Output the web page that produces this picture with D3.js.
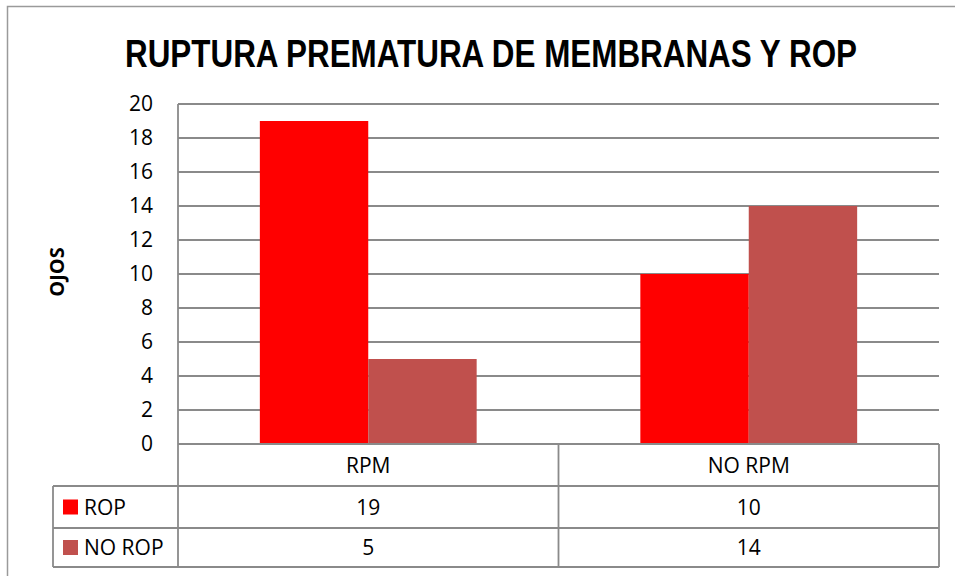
<!DOCTYPE html>
<html><head><meta charset="utf-8">
<script src="https://cdn.jsdelivr.net/npm/d3@7"></script>
<style>body{margin:0;background:#fff}svg{display:block}</style>
</head><body>
<script>
const title = "RUPTURA PREMATURA DE MEMBRANAS Y ROP";
const yLabel = "OJOS";
const categories = ["RPM", "NO RPM"];
const seriesNames = ["ROP", "NO ROP"];
const ropValues = [19, 10];
const noRopValues = [5, 14];
const yTicks = [0, 2, 4, 6, 8, 10, 12, 14, 16, 18, 20];
const colors = ["#FF0000", "#C0504D"];

(function () {
const W = 955, H = 576;
const svg = d3.select("body").append("svg").attr("width", W).attr("height", H);
const font = "'Open Sans', 'DejaVu Sans', sans-serif";
const fs = 21;
const gridColor = "#8a8a8a";

// outer border
svg.append("rect").attr("x", 7.5).attr("y", 6.5).attr("width", W + 10).attr("height", H + 10)
  .attr("fill", "none").attr("stroke", "#9a9a9a").attr("stroke-width", 1.5);

const pLeft = 178, pRight = 939, pTop = 104, pBottom = 444;
const rowH = [486, 528, 567];
const tableLeft = 53;

const x0 = d3.scaleBand().domain(categories).range([pLeft, pRight]).paddingInner(0).paddingOuter(0);
const x1 = d3.scaleBand().domain(seriesNames).range([0, x0.bandwidth()]).paddingInner(0).paddingOuter(0.755);
const y = d3.scaleLinear().domain([0, 20]).range([pBottom, pTop]);

const seriesData = [ropValues, noRopValues];

// gridlines
svg.append("g").selectAll("line").data(yTicks.filter(t => t > 0)).join("line")
  .attr("x1", pLeft).attr("x2", pRight).attr("y1", d => y(d)).attr("y2", d => y(d))
  .attr("stroke", gridColor).attr("stroke-width", 1.8);

// bars
categories.forEach((c, ci) => {
  seriesNames.forEach((s, si) => {
    const v = seriesData[si][ci];
    svg.append("rect")
      .attr("x", x0(c) + x1(s)).attr("width", x1.bandwidth())
      .attr("y", y(v)).attr("height", y(0) - y(v))
      .attr("fill", colors[si]);
  });
});

// y axis
const yAxis = d3.axisLeft(y).tickValues(yTicks).tickSize(0).tickPadding(25);
const ga = svg.append("g").attr("transform", `translate(${pLeft},0)`).call(yAxis);
ga.select(".domain").remove();
ga.attr("font-size", fs).attr("font-family", font);
ga.selectAll("text").attr("font-family", font).attr("font-size", fs).attr("fill", "#000");

// y label
svg.append("text").attr("transform", "translate(64,272) rotate(-90)")
  .attr("text-anchor", "middle").attr("font-family", font).attr("font-weight", "bold")
  .attr("font-size", 20).text(yLabel);

// table lines
const tl = svg.append("g").attr("stroke", gridColor).attr("stroke-width", 1.8);
tl.append("line").attr("x1", pLeft).attr("x2", pRight).attr("y1", pBottom).attr("y2", pBottom);
rowH.forEach(yy => tl.append("line").attr("x1", tableLeft).attr("x2", pRight).attr("y1", yy).attr("y2", yy));
tl.append("line").attr("x1", pLeft).attr("x2", pLeft).attr("y1", pTop).attr("y2", rowH[2]);
tl.append("line").attr("x1", tableLeft).attr("x2", tableLeft).attr("y1", rowH[0]).attr("y2", rowH[2]);
categories.forEach(c => {
  tl.append("line").attr("x1", x0(c) + x0.bandwidth()).attr("x2", x0(c) + x0.bandwidth())
    .attr("y1", pBottom).attr("y2", rowH[2]);
});

// table text
const rowsY = [pBottom, rowH[0], rowH[1], rowH[2]];
categories.forEach((c, ci) => {
  const cx = x0(c) + x0.bandwidth() / 2;
  svg.append("text").attr("x", cx).attr("y", (rowsY[0] + rowsY[1]) / 2).attr("dy", "0.36em")
    .attr("text-anchor", "middle").attr("font-family", font).attr("font-size", fs).text(c);
  seriesNames.forEach((s, si) => {
    svg.append("text").attr("x", cx).attr("y", (rowsY[si + 1] + rowsY[si + 2]) / 2).attr("dy", "0.36em")
      .attr("text-anchor", "middle").attr("font-family", font).attr("font-size", fs).text(seriesData[si][ci]);
  });
});
seriesNames.forEach((s, si) => {
  const cy = (rowsY[si + 1] + rowsY[si + 2]) / 2;
  svg.append("rect").attr("x", 63).attr("y", cy - 7.5).attr("width", 15).attr("height", 15).attr("fill", colors[si]);
  svg.append("text").attr("x", 84).attr("y", cy).attr("dy", "0.36em")
    .attr("font-family", font).attr("font-size", fs).text(s);
});

// title
svg.append("text").attr("x", 491).attr("y", 67).attr("text-anchor", "middle")
  .attr("font-family", "'Liberation Sans Narrow', 'Arial Narrow', 'Liberation Sans', sans-serif")
  .attr("font-weight", "bold").attr("font-size", 38)
  .attr("textLength", 732).attr("lengthAdjust", "spacingAndGlyphs").text(title);
})();
</script>
</body></html>
